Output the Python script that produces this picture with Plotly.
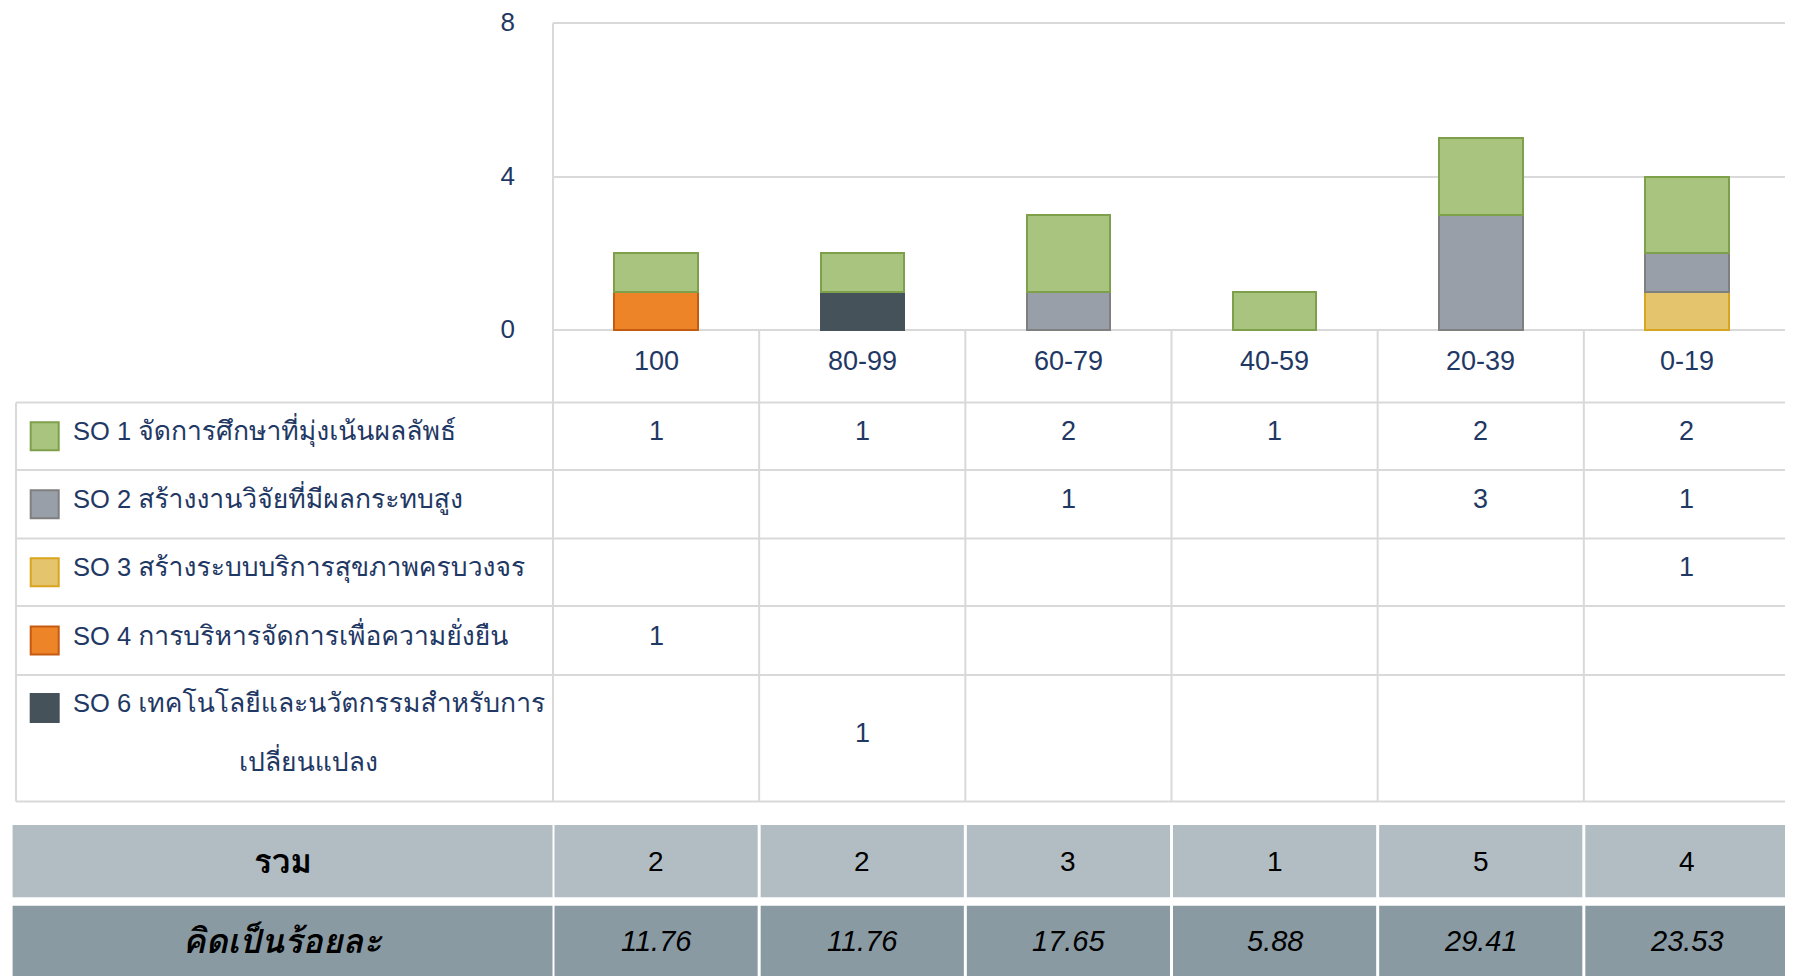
import plotly.graph_objects as go

# ---------------- data ----------------
categories = ["100", "80-99", "60-79", "40-59", "20-39", "0-19"]
series_names = [
    "SO 1 จัดการศึกษาที่มุ่งเน้นผลลัพธ์",
    "SO 2 สร้างงานวิจัยที่มีผลกระทบสูง",
    "SO 3 สร้างระบบบริการสุขภาพครบวงจร",
    "SO 4 การบริหารจัดการเพื่อความยั่งยืน",
    "SO 6 เทคโนโลยีและนวัตกรรมสำหรับการ<br>เปลี่ยนแปลง",
]
so1 = [1, 1, 2, 1, 2, 2]
so2 = [None, None, 1, None, 3, 1]
so3 = [None, None, None, None, None, 1]
so4 = [1, None, None, None, None, None]
so6 = [None, 1, None, None, None, None]
totals = [2, 2, 3, 1, 5, 4]
percents = ["11.76", "11.76", "17.65", "5.88", "29.41", "23.53"]
y_ticks = [0, 4, 8]
y_max = 8
total_label = "รวม"
percent_label = "คิดเป็นร้อยละ"

series_values = [so1, so2, so3, so4, so6]

# ---------------- styles / layout ----------------
fills = ["#A9C47F", "#989FA8", "#E5C46E", "#ED8428", "#465259"]
edges = ["#7FA04B", "#7F7F7F", "#D9A521", "#C55A11", "#465259"]
NAVY = "#1F3864"
GRID = "#D9D9D9"
SUM1 = "#B1BCC3"
SUM2 = "#8A9AA3"
FONT = "Liberation Sans, Arial, sans-serif"
THAI = "Loma, Garuda, Noto Sans Thai Looped, Noto Sans Thai, Liberation Sans, sans-serif"
THAI_SIZE = 26.5
NUM_SIZE = 27

# page body has an 8px margin: figure origin sits at (8, 8) of the window
OFF = 8
W, H = 1793 - OFF, 976 - OFF
PLOT_L, PLOT_R = 553, 1790
Y_TOP, Y_ZERO = 23.3, 330
Y_PAD = 0.05  # small range padding so the end grid lines are drawn
ROW_EDGES = [330, 402.5, 470, 538.6, 606, 675, 801.6]
TEXT_LIFT = 5
TABLE_L = 16
SUM_ROWS = [(825, 897.3), (905.7, 990)]
SUM_L = 12.6
GAP = 1.5 / ((PLOT_R - PLOT_L) / len(categories))


def py(p):
    return 1 - (p - OFF) / H


def pxp(p):
    return (p - OFF) / W


def thai(s, size, extra=""):
    return '<span style="font-family:%s;font-size:%spx%s">%s</span>' % (THAI, size, extra, s)


px_per_unit = (Y_ZERO - Y_TOP) / y_max
dom_bottom = py(Y_ZERO + Y_PAD * px_per_unit)
dom_top = py(Y_TOP - Y_PAD * px_per_unit)

fig = go.Figure()

# stacked bars: bottom-most series first
for idx in [4, 3, 2, 1, 0]:
    fig.add_trace(go.Bar(
        x=categories, y=series_values[idx],
        name=series_names[idx].replace("<br>", ""),
        marker=dict(color=fills[idx], line=dict(color=edges[idx], width=2)),
        showlegend=False,
    ))

shapes = []
annotations = []


def ann(**kw):
    base = dict(showarrow=False, xanchor="center", yanchor="middle")
    base.update(kw)
    annotations.append(base)


n = len(categories)
# vertical column separators
for i in range(n + 1):
    shapes.append(dict(type="line", xref="x domain", yref="paper",
                       x0=i / n, x1=i / n,
                       y0=py(ROW_EDGES[0] if i else Y_TOP), y1=py(ROW_EDGES[-1]),
                       line=dict(color=GRID, width=2), layer="above"))
# left border of table
shapes.append(dict(type="line", xref="paper", yref="paper",
                   x0=pxp(TABLE_L), x1=pxp(TABLE_L), y0=py(ROW_EDGES[1]), y1=py(ROW_EDGES[-1]),
                   line=dict(color=GRID, width=2)))
# horizontal row lines
for e in ROW_EDGES[1:]:
    shapes.append(dict(type="line", xref="paper", yref="paper",
                       x0=pxp(TABLE_L), x1=pxp(PLOT_R), y0=py(e), y1=py(e),
                       line=dict(color=GRID, width=2)))

# category labels
cy = (ROW_EDGES[0] + ROW_EDGES[1]) / 2 - TEXT_LIFT
for i, c in enumerate(categories):
    ann(x=i, y=py(cy), xref="x", yref="paper", text=c,
        font=dict(family=FONT, size=NUM_SIZE, color=NAVY))

# series rows
for r, (name, vals) in enumerate(zip(series_names, series_values)):
    top, bot = ROW_EDGES[r + 1], ROW_EDGES[r + 2]
    center = (top + bot) / 2
    lines = name.split("<br>")
    if len(lines) == 1:
        swatch_c = center
        line_centers = [center - TEXT_LIFT]
    else:
        swatch_c = top + 33
        line_centers = [top + 28, top + 87]
    s = 28
    shapes.append(dict(type="rect", xref="paper", yref="paper",
                       x0=pxp(30.7), x1=pxp(30.7 + s),
                       y0=py(swatch_c - s / 2), y1=py(swatch_c + s / 2),
                       fillcolor=fills[r], line=dict(color=edges[r], width=2)))
    so, num, rest = lines[0].split(" ", 2)
    ann(x=pxp(71), y=py(line_centers[0]), xref="paper", yref="paper",
        text="%s %s %s" % (so, num, thai(rest, THAI_SIZE)), xanchor="left",
        font=dict(family=FONT, size=25.5, color=NAVY))
    for ln, lc in zip(lines[1:], line_centers[1:]):
        ann(x=pxp(308), y=py(lc), xref="paper", yref="paper",
            text=thai(ln, THAI_SIZE), font=dict(family=FONT, size=25.5, color=NAVY))
    for i, v in enumerate(vals):
        if v is not None:
            ann(x=i, y=py(center - TEXT_LIFT), xref="x", yref="paper", text=str(v),
                font=dict(family=FONT, size=NUM_SIZE, color=NAVY))

# ---- summary table ----
for (top, bot), bg, label, vals, italic in [
    (SUM_ROWS[0], SUM1, total_label, [str(t) for t in totals], False),
    (SUM_ROWS[1], SUM2, percent_label, percents, True),
]:
    shapes.append(dict(type="rect", xref="paper", yref="paper",
                       x0=pxp(SUM_L), x1=pxp(PLOT_L - 0.5), y0=py(bot), y1=py(top),
                       fillcolor=bg, line=dict(width=0), layer="below"))
    center = (top + min(bot, 976)) / 2
    if italic:
        txt = "<b><i>%s</i></b>" % thai(label, 34)
    else:
        txt = "<b>%s</b>" % thai(label, 33)
    ann(x=pxp((SUM_L + PLOT_L) / 2), y=py(center), xref="paper", yref="paper",
        text=txt, font=dict(family=FONT, size=27, color="black"))
    for i, v in enumerate(vals):
        right_gap = GAP if i < n - 1 else GAP * 3.3
        shapes.append(dict(type="rect", xref="x", yref="paper",
                           x0=i - 0.5 + GAP, x1=i + 0.5 - right_gap, y0=py(bot), y1=py(top),
                           fillcolor=bg, line=dict(width=0), layer="below"))
        ann(x=i, y=py(center), xref="x", yref="paper",
            text="<i>%s</i>" % v if italic else v,
            font=dict(family=FONT, size=29 if italic else 28, color="black"))

fig.update_layout(
    width=W, height=H,
    margin=dict(l=0, r=0, t=0, b=0, pad=0),
    paper_bgcolor="white", plot_bgcolor="white",
    barmode="stack", bargap=0.595,
    shapes=shapes, annotations=annotations,
    xaxis=dict(domain=[pxp(PLOT_L), pxp(PLOT_R)], type="category",
               categoryorder="array", categoryarray=categories,
               range=[-0.5, n - 0.5], showticklabels=False, showgrid=False,
               zeroline=False, showline=False, fixedrange=True, automargin=False),
    yaxis=dict(domain=[dom_bottom, dom_top], range=[-Y_PAD, y_max + Y_PAD], tickvals=y_ticks,
               showgrid=True, gridcolor=GRID, gridwidth=2, zeroline=False,
               showline=False, ticks="", ticklabeloverflow="allow",
               ticklabelstandoff=37, ticklabelshift=-1, automargin=False,
               tickfont=dict(family=FONT, size=26, color=NAVY), fixedrange=True),
    showlegend=False,
)

fig.write_html("out.html")
